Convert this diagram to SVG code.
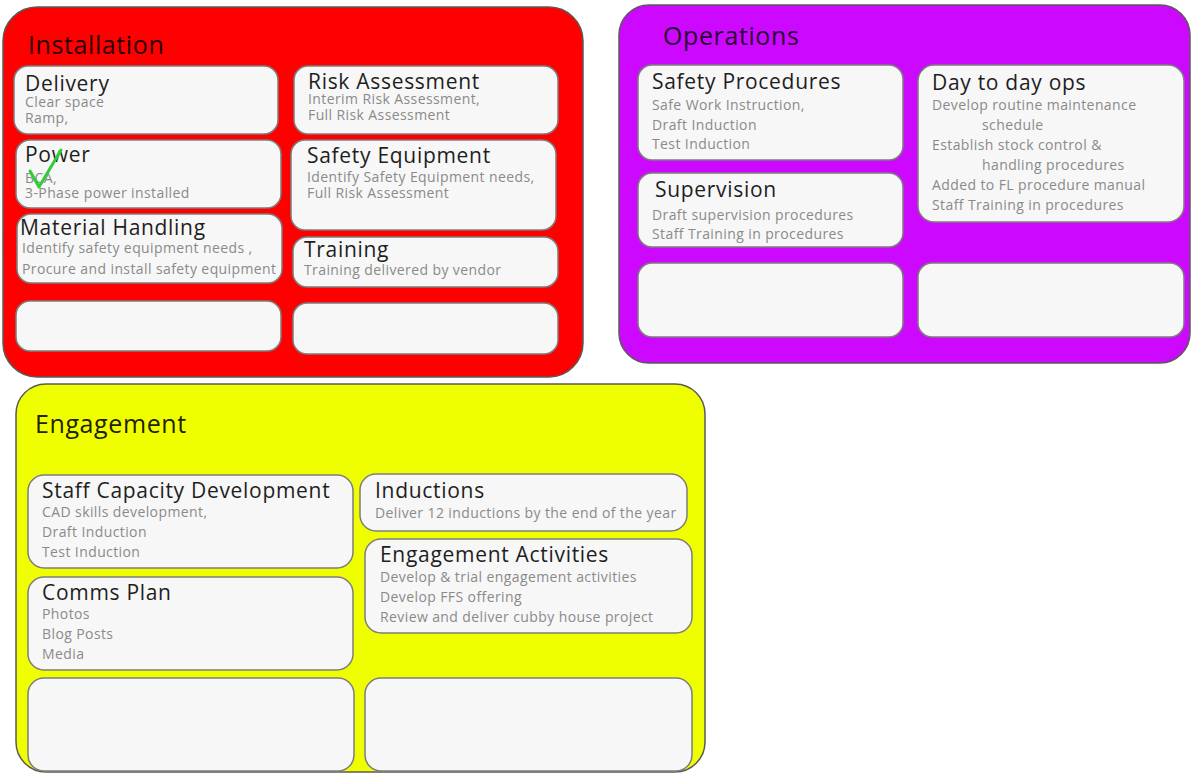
<svg xmlns="http://www.w3.org/2000/svg" width="1192" height="773" viewBox="0 0 1192 773">
<style>
.panel{stroke:#5a5a5a;stroke-width:1.5}
.card{fill:#f7f7f7;stroke:#7d7d7d;stroke-width:1.5}
.ptitle{font-family:"Open Sans","Noto Sans",sans-serif;font-size:25px;letter-spacing:0.6px}
.ctitle{font-family:"Open Sans","Noto Sans",sans-serif;font-size:21px;letter-spacing:0.7px;fill:#1e1e1e}
.sub{font-family:"Open Sans","Noto Sans",sans-serif;font-size:14px;letter-spacing:0.4px;fill:#8a8a8a}
</style>
<rect width="1192" height="773" fill="#ffffff"/>

<g id="installation">
<rect class="panel" x="3" y="7" width="580" height="370" rx="34" fill="#fe0000"/>
<text class="ptitle" x="28" y="54" fill="#2a0000" font-size="26">Installation</text>
</g>
<g id="delivery">
<rect class="card" x="14" y="66" width="264" height="68" rx="14"/>
<text class="ctitle" x="25" y="91">Delivery</text>
<text class="sub" x="25" y="107">Clear space</text>
<text class="sub" x="25" y="123">Ramp,</text>
</g>
<g id="power">
<rect class="card" x="16" y="140" width="265" height="68" rx="14"/>
<text class="ctitle" x="25" y="162">Power</text>
<text class="sub" x="25" y="183">BCA,</text>
<text class="sub" x="25" y="198">3-Phase power installed</text>
<path d="M30 171 L39 187 L61 150" fill="none" stroke="#33cc33" stroke-width="3" stroke-linecap="round" stroke-linejoin="round"/>
</g>
<g id="material-handling">
<rect class="card" x="17" y="214" width="265" height="69" rx="14"/>
<text class="ctitle" x="20" y="235">Material Handling</text>
<text class="sub" x="22" y="253">Identify safety equipment needs ,</text>
<text class="sub" x="22" y="274">Procure and install safety equipment</text>
</g>
<g id="installation-empty-1">
<rect class="card" x="16" y="301" width="265" height="50" rx="14"/>
</g>
<g id="risk-assessment">
<rect class="card" x="294" y="66" width="264" height="68" rx="14"/>
<text class="ctitle" x="308" y="89">Risk Assessment</text>
<text class="sub" x="308" y="104">Interim Risk Assessment,</text>
<text class="sub" x="308" y="120">Full Risk Assessment</text>
</g>
<g id="safety-equipment">
<rect class="card" x="291" y="140" width="265" height="90" rx="14"/>
<text class="ctitle" x="307" y="163">Safety Equipment</text>
<text class="sub" x="307" y="182">Identify Safety Equipment needs,</text>
<text class="sub" x="307" y="198">Full Risk Assessment</text>
</g>
<g id="training">
<rect class="card" x="293" y="237" width="265" height="50" rx="14"/>
<text class="ctitle" x="304" y="257">Training</text>
<text class="sub" x="304" y="275">Training delivered by vendor</text>
</g>
<g id="installation-empty-2">
<rect class="card" x="293" y="303" width="265" height="51" rx="14"/>
</g>

<g id="operations">
<rect class="panel" x="619" y="5" width="571" height="358" rx="30" fill="#cc08ff"/>
<text class="ptitle" x="663" y="45" fill="#2a0033">Operations</text>
</g>
<g id="safety-procedures">
<rect class="card" x="638" y="65" width="265" height="95" rx="14"/>
<text class="ctitle" x="652" y="89">Safety Procedures</text>
<text class="sub" x="652" y="110">Safe Work Instruction,</text>
<text class="sub" x="652" y="130">Draft Induction</text>
<text class="sub" x="652" y="149">Test Induction</text>
</g>
<g id="supervision">
<rect class="card" x="638" y="173" width="265" height="74" rx="14"/>
<text class="ctitle" x="655" y="197">Supervision</text>
<text class="sub" x="652" y="220">Draft supervision procedures</text>
<text class="sub" x="652" y="239">Staff Training in procedures</text>
</g>
<g id="operations-empty-1">
<rect class="card" x="638" y="263" width="265" height="74" rx="14"/>
</g>
<g id="day-to-day-ops">
<rect class="card" x="918" y="65" width="266" height="157" rx="16"/>
<text class="ctitle" x="932" y="90">Day to day ops</text>
<text class="sub" x="932" y="110">Develop routine maintenance</text>
<text class="sub" x="982" y="130">schedule</text>
<text class="sub" x="932" y="150">Establish stock control &amp;</text>
<text class="sub" x="982" y="170">handling procedures</text>
<text class="sub" x="932" y="190">Added to FL procedure manual</text>
<text class="sub" x="932" y="210">Staff Training in procedures</text>
</g>
<g id="operations-empty-2">
<rect class="card" x="918" y="263" width="266" height="74" rx="14"/>
</g>

<g id="engagement">
<rect class="panel" x="16" y="384" width="689" height="388" rx="30" fill="#f0ff00"/>
<text class="ptitle" x="35" y="433" fill="#222200">Engagement</text>
</g>
<g id="staff-capacity-development">
<rect class="card" x="28" y="475" width="325" height="93" rx="16"/>
<text class="ctitle" x="42" y="498">Staff Capacity Development</text>
<text class="sub" x="42" y="517">CAD skills development,</text>
<text class="sub" x="42" y="537">Draft Induction</text>
<text class="sub" x="42" y="557">Test Induction</text>
</g>
<g id="comms-plan">
<rect class="card" x="28" y="577" width="325" height="93" rx="16"/>
<text class="ctitle" x="42" y="600">Comms Plan</text>
<text class="sub" x="42" y="619">Photos</text>
<text class="sub" x="42" y="639">Blog Posts</text>
<text class="sub" x="42" y="659">Media</text>
</g>
<g id="engagement-empty-1">
<rect class="card" x="28" y="678" width="326" height="93" rx="16"/>
</g>
<g id="inductions">
<rect class="card" x="360" y="474" width="327" height="57" rx="16"/>
<text class="ctitle" x="375" y="498">Inductions</text>
<text class="sub" x="375" y="518">Deliver 12 inductions by the end of the year</text>
</g>
<g id="engagement-activities">
<rect class="card" x="365" y="539" width="327" height="94" rx="16"/>
<text class="ctitle" x="380" y="562">Engagement Activities</text>
<text class="sub" x="380" y="582">Develop &amp; trial engagement activities</text>
<text class="sub" x="380" y="602">Develop FFS offering</text>
<text class="sub" x="380" y="622">Review and deliver cubby house project</text>
</g>
<g id="engagement-empty-2">
<rect class="card" x="365" y="678" width="327" height="93" rx="16"/>
</g>
<g id="connectors"></g>
</svg>
